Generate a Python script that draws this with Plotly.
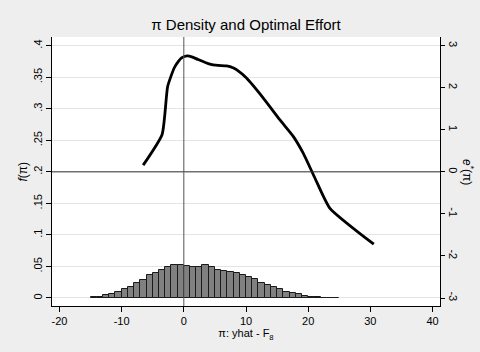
import plotly.graph_objects as go

# Histogram of pi (bins of width 1 from -15 to 25), density values
bin_left = list(range(-15, 25))
density = [0.001, 0.002, 0.004, 0.006, 0.0096, 0.014, 0.0176, 0.023, 0.029, 0.036,
           0.040, 0.044, 0.0495, 0.053, 0.053,
           0.051, 0.049, 0.049, 0.052, 0.049, 0.045, 0.043, 0.041, 0.040, 0.036,
           0.0325, 0.030, 0.023, 0.021, 0.017, 0.015, 0.010, 0.008, 0.007, 0.0037,
           0.002, 0.001, 0.0007, 0.0006, 0.0005]

# Optimal effort curve
pi_x = [-6.54, -3.49, -2.6, -1.55, -0.9, -0.37, 0.53, 1.4, 2.3, 4.18, 5.5, 6.86, 8.0,
        8.47, 10.08, 12.75, 15.43, 17.57, 19.18, 21.06, 23.47, 30.55]
effort = [0.16, 0.89, 2.03, 2.47, 2.62, 2.71, 2.76, 2.73, 2.67, 2.56, 2.53, 2.52, 2.47,
          2.43, 2.23, 1.76, 1.24, 0.85, 0.45, -0.14, -0.86, -1.72]

left_ticks = [0, 0.05, 0.1, 0.15, 0.2, 0.25, 0.3, 0.35, 0.4]
left_labels = ["0", ".05", ".1", ".15", ".2", ".25", ".3", ".35", ".4"]
right_ticks = [-3, -2, -1, 0, 1, 2, 3]
right_labels = ["-3", "-2", "-1", "0", "1", "2", "3"]
x_ticks = [-20, -10, 0, 10, 20, 30, 40]
x_labels = ["-20", "-10", "0", "10", "20", "30", "40"]

FONT = "Liberation Sans, Arial, Helvetica, sans-serif"

fig = go.Figure()
fig.add_trace(go.Bar(
    x=[b + 0.5 for b in bin_left], y=density, width=1,
    marker=dict(color="#808080", line=dict(color="#1a1a1a", width=1)),
    yaxis="y", showlegend=False))
fig.add_trace(go.Scatter(
    x=pi_x, y=effort, mode="lines", line=dict(color="black", width=2.8, shape="spline", smoothing=0.5),
    yaxis="y2", showlegend=False))

fig.add_shape(type="line", xref="paper", yref="y", x0=0, x1=1, y0=0.2, y1=0.2,
              line=dict(color="#333333", width=1), layer="above")
fig.add_shape(type="line", xref="x", yref="paper", x0=0, x1=0, y0=0, y1=1,
              line=dict(color="#555555", width=1), layer="above")

fig.update_layout(
    width=480, height=352,
    margin=dict(l=52, r=40, t=37, b=46),
    paper_bgcolor="#eeeeee", plot_bgcolor="white",
    font=dict(family=FONT, size=11, color="black"),
    bargap=0,
    title=dict(text="π Density and Optimal Effort", x=0.5, xref="paper", xanchor="center",
               y=1 - 25 / 352, yref="container", yanchor="middle",
               font=dict(size=15, color="black")),
    xaxis=dict(range=[-21.2, 41.2], tickvals=x_ticks, ticktext=x_labels, showgrid=False,
               zeroline=False, showline=True, linecolor="black", linewidth=1,
               ticks="outside", ticklen=5, tickcolor="black",
               title=dict(text="π: yhat - F<sub>8</sub>", font=dict(size=11), standoff=2)),
    yaxis=dict(range=[-0.0127, 0.4138], tickvals=left_ticks, ticktext=left_labels,
               tickangle=-90, showgrid=True, gridcolor="#e4e4e4", gridwidth=1,
               zeroline=False, showline=True, linecolor="black", linewidth=1,
               ticks="outside", ticklen=5, tickcolor="black"),
    yaxis2=dict(range=[-3.19, 3.207], tickvals=right_ticks, ticktext=right_labels,
                tickangle=90, overlaying="y", side="right", showgrid=False, zeroline=False,
                showline=True, linecolor="black", linewidth=1,
                ticks="outside", ticklen=4, tickcolor="black"),
    annotations=[
        dict(text="<i>f</i>(π)", xref="paper", yref="paper", x=(22 - 52) / 388, y=0.5,
             xanchor="center", yanchor="middle", textangle=-90, showarrow=False,
             font=dict(size=12)),
        dict(text="<i>e</i><sup>*</sup>(π)", xref="paper", yref="paper", x=(468 - 52) / 388,
             y=(306 - 172) / 269, xanchor="center", yanchor="middle", textangle=90,
             showarrow=False, font=dict(size=12)),
    ],
)

fig.write_html("out.html")
